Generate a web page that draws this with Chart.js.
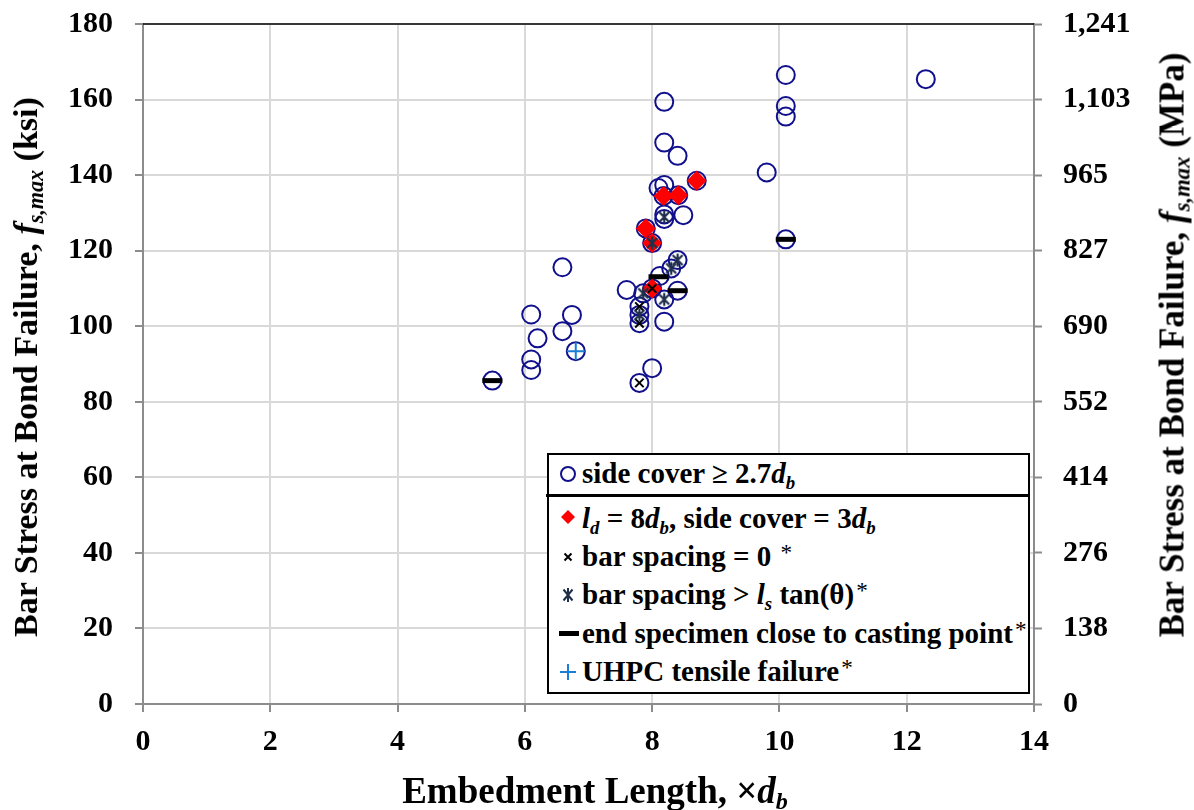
<!DOCTYPE html>
<html>
<head>
<meta charset="utf-8">
<script src="https://cdn.jsdelivr.net/npm/chart.js@4.4.1/dist/chart.umd.min.js"></script>
<style>
  html, body { margin: 0; padding: 0; background: #fff; overflow: hidden; }
  #wrap { position: relative; width: 1194px; height: 810px; overflow: hidden; font-family: "Liberation Serif", "Times New Roman", serif; }
  #c { position: absolute; left: 0; top: -16px; }
  .title { position: absolute; font-weight: bold; color: #000; white-space: nowrap; line-height: 1; }
  .rot { transform: translate(-50%, -50%) rotate(-90deg); font-size: 35px; }
  .hor { transform: translate(-50%, -50%); font-size: 37px; }
  .title sub { font-size: 0.65em; vertical-align: -0.25em; line-height: 0; }
  #legend { position: absolute; left: 547px; top: 453px; width: 479px; height: 237px; border: 2px solid #000; background: #fff; font-weight: bold; font-size: 29px; color: #000; }
  #legend .row { position: absolute; left: 0; height: 36px; line-height: 36px; white-space: nowrap; }
  #legend .row .txt { position: absolute; left: 33px; top: 0; }
  #legend svg { position: absolute; top: 0; }
  #legend .sep { position: absolute; left: -3px; width: 484px; top: 39px; height: 3px; background: #000; }
  .star { font-weight: normal; font-size: 0.8em; vertical-align: 0.25em; line-height: 0; margin-left: 2px; }
  .lg sub { font-size: 0.65em; vertical-align: -0.3em; line-height: 0; }
</style>
</head>
<body>
<div id="wrap">
  <canvas id="c" width="1194" height="826"></canvas>
  <div class="title rot" style="left:26px; top:367px; font-size:34px;">Bar Stress at Bond Failure, <i>f<sub>s,max</sub></i> (ksi)</div>
  <div class="title rot" style="left:1172px; top:345px;">Bar Stress at Bond Failure, <i>f<sub>s,max</sub></i> (MPa)</div>
  <div class="title hor" style="left:595px; top:790px;">Embedment Length, ×<i>d<sub>b</sub></i></div>
  <div id="legend">
    <div class="row" style="top:0px;">
      <svg style="left:9px;" width="20" height="36"><circle cx="10" cy="19" r="7" fill="none" stroke="#10108c" stroke-width="2"/></svg>
      <span class="txt lg">side cover ≥ 2.7<i>d<sub>b</sub></i></span>
    </div>
    <div class="sep"></div>
    <div class="row" style="top:45px;">
      <svg style="left:9px;" width="20" height="36"><polygon points="10,10 17,17 10,24 3,17" fill="#ff0000"/></svg>
      <span class="txt lg"><i>l<sub>d</sub></i> = 8<i>d<sub>b</sub></i>, side cover = 3<i>d<sub>b</sub></i></span>
    </div>
    <div class="row" style="top:83px;">
      <svg style="left:9px;" width="20" height="36"><path d="M6.5,15.5 L13.5,22.5 M13.5,15.5 L6.5,22.5" stroke="#000" stroke-width="2"/></svg>
      <span class="txt lg">bar spacing = 0 <span class="star">*</span></span>
    </div>
    <div class="row" style="top:121px;">
      <svg style="left:9px;" width="20" height="36"><path d="M5.5,13.5 L14.5,24.5 M14.5,13.5 L5.5,24.5 M10,12 L10,26" stroke="#1f2f4a" stroke-width="2"/></svg>
      <span class="txt lg">bar spacing &gt; <i>l<sub>s</sub></i> tan(θ)<span class="star">*</span></span>
    </div>
    <div class="row" style="top:160px;">
      <svg style="left:8px;" width="24" height="36"><rect x="2" y="16" width="20" height="5" fill="#000"/></svg>
      <span class="txt lg">end specimen close to casting point<span class="star">*</span></span>
    </div>
    <div class="row" style="top:198px;">
      <svg style="left:9px;" width="20" height="36"><path d="M10,11 L10,27 M2,19 L18,19" stroke="#1a7fd4" stroke-width="2"/></svg>
      <span class="txt lg">UHPC tensile failure<span class="star">*</span></span>
    </div>
  </div>
</div>
<script>
// Embedment length (× d_b) and bar stress at bond failure (ksi)
const sideCoverX = [12.30, 10.10, 10.10, 10.10, 9.80, 10.10, 8.19, 8.19, 8.40, 8.10, 8.19, 8.49, 8.19, 8.19,
                    8.70, 8.18, 8.41, 7.90, 8.00, 8.40, 8.30, 8.12, 7.60, 8.00, 7.86, 8.40, 8.19, 7.80,
                    7.80, 7.80, 8.19, 8.00, 7.80, 6.59, 6.10, 6.74, 6.59, 6.20, 6.10, 6.10, 6.80, 5.49];
const sideCoverY = [165.4, 166.5, 158.3, 155.5, 140.7, 123.0, 159.4, 148.6, 145.1, 136.6, 137.4, 129.4, 128.4, 129.6,
                    138.5, 134.5, 134.7, 125.9, 122.0, 117.5, 115.3, 113.3, 109.6, 110.0, 108.7, 109.4, 107.1, 105.2,
                    103.0, 100.8, 101.2, 88.9, 85.0, 115.6, 103.1, 103.0, 98.7, 96.8, 91.2, 88.4, 93.4, 85.6];

const ld8X = [8.70, 8.18, 8.41, 7.90, 8.00, 8.00];
const ld8Y = [138.5, 134.5, 134.7, 125.9, 122.0, 110.0];

const spacingZeroX = [8.00, 7.80, 7.80, 7.80];
const spacingZeroY = [110.0, 105.2, 100.8, 85.0];

const spacingWideX = [8.19, 8.00, 8.40, 8.30, 7.86, 8.19, 7.80];
const spacingWideY = [128.9, 122.0, 117.5, 115.3, 108.7, 107.1, 103.0];

const endSpecimenX = [10.10, 8.10, 8.40, 5.49];
const endSpecimenY = [123.0, 113.1, 109.4, 85.6];

const tensileX = [6.80];
const tensileY = [93.4];

const xTicks = [0, 2, 4, 6, 8, 10, 12, 14];
const yTicks = [0, 20, 40, 60, 80, 100, 120, 140, 160, 180];
const KSI_TO_MPA = 6.895;

function pts(xs, ys) { return xs.map((x, i) => ({ x: x, y: ys[i] })); }

// six-armed asterisk marker
function asteriskMarker() {
  const c = document.createElement('canvas');
  c.width = 16; c.height = 16;
  const g = c.getContext('2d');
  g.strokeStyle = '#1f2f4a';
  g.lineWidth = 2.2;
  g.beginPath();
  g.moveTo(3, 3); g.lineTo(13, 13);
  g.moveTo(13, 3); g.lineTo(3, 13);
  g.moveTo(8, 1.5); g.lineTo(8, 14.5);
  g.stroke();
  return c;
}

// frame line along the top of the plot
const frame = {
  id: 'frame',
  afterDraw(chart) {
    const a = chart.chartArea, ctx = chart.ctx;
    ctx.save();
    ctx.strokeStyle = '#000';
    ctx.lineWidth = 1.5;
    ctx.beginPath();
    ctx.moveTo(a.left, a.top);
    ctx.lineTo(a.right, a.top);
    ctx.stroke();
    ctx.restore();
  }
};

const tickFont = { family: '"Liberation Serif", "Times New Roman", serif', size: 30, weight: 'bold' };

new Chart(document.getElementById('c'), {
  type: 'scatter',
  data: {
    datasets: [
      { label: 'side cover ≥ 2.7db', data: pts(sideCoverX, sideCoverY), order: 6,
        pointStyle: 'circle', pointRadius: 9, pointBorderWidth: 2, borderColor: '#10108c', backgroundColor: 'rgba(0,0,0,0)' },
      { label: 'ld = 8db, side cover = 3db', data: pts(ld8X, ld8Y), order: 5,
        pointStyle: 'rectRot', pointRadius: 10, pointBorderWidth: 0, borderColor: '#ff0000', backgroundColor: '#ff0000' },
      { label: 'bar spacing = 0', data: pts(spacingZeroX, spacingZeroY), order: 4,
        pointStyle: 'crossRot', pointRadius: 6, pointBorderWidth: 2, borderColor: '#000', backgroundColor: '#000' },
      { label: 'bar spacing > ls tan(θ)', data: pts(spacingWideX, spacingWideY), order: 3,
        pointStyle: asteriskMarker(), pointRadius: 8 },
      { label: 'end specimen close to casting point', data: pts(endSpecimenX, endSpecimenY), order: 2,
        pointStyle: 'line', pointRadius: 10, pointBorderWidth: 5, borderColor: '#000', backgroundColor: '#000' },
      { label: 'UHPC tensile failure', data: pts(tensileX, tensileY), order: 1,
        pointStyle: 'cross', pointRadius: 9, pointBorderWidth: 2, borderColor: '#1a7fd4', backgroundColor: '#1a7fd4' }
    ]
  },
  options: {
    responsive: false,
    animation: false,
    events: [],
    layout: { padding: { top: 8, left: 0, right: 0, bottom: 0 } },
    plugins: { legend: { display: false }, tooltip: { enabled: false } },
    scales: {
      x: {
        type: 'linear', position: 'bottom', min: 0, max: 14,
        afterBuildTicks(s) { s.ticks = xTicks.map(v => ({ value: v })); },
        afterFit(s) { s.height = 106; },
        grid: { color: '#d9d9d9', lineWidth: 2, tickLength: 8, tickColor: '#8c8c8c', tickWidth: 2 },
        border: { color: '#8c8c8c', width: 2 },
        ticks: { font: tickFont, color: '#000', padding: 12, maxRotation: 0 }
      },
      y: {
        type: 'linear', position: 'left', min: 0, max: 180,
        afterBuildTicks(s) { s.ticks = yTicks.map(v => ({ value: v })); },
        afterFit(s) { s.width = 143; },
        grid: { color: '#d9d9d9', lineWidth: 2, tickLength: 8, tickColor: '#8c8c8c', tickWidth: 2 },
        border: { color: '#8c8c8c', width: 2 },
        ticks: { font: tickFont, color: '#000', padding: 22 }
      },
      y2: {
        type: 'linear', position: 'right', min: 0, max: 180,
        afterBuildTicks(s) { s.ticks = yTicks.map(v => ({ value: v })); },
        afterFit(s) { s.width = 160; },
        grid: { drawOnChartArea: false, tickLength: 8, tickColor: '#8c8c8c', tickWidth: 2 },
        border: { color: '#8c8c8c', width: 2 },
        ticks: { font: tickFont, color: '#000', padding: 21,
          callback: v => Math.round(v * KSI_TO_MPA).toLocaleString('en-US') }
      }
    }
  },
  plugins: [frame]
});
</script>
</body>
</html>
